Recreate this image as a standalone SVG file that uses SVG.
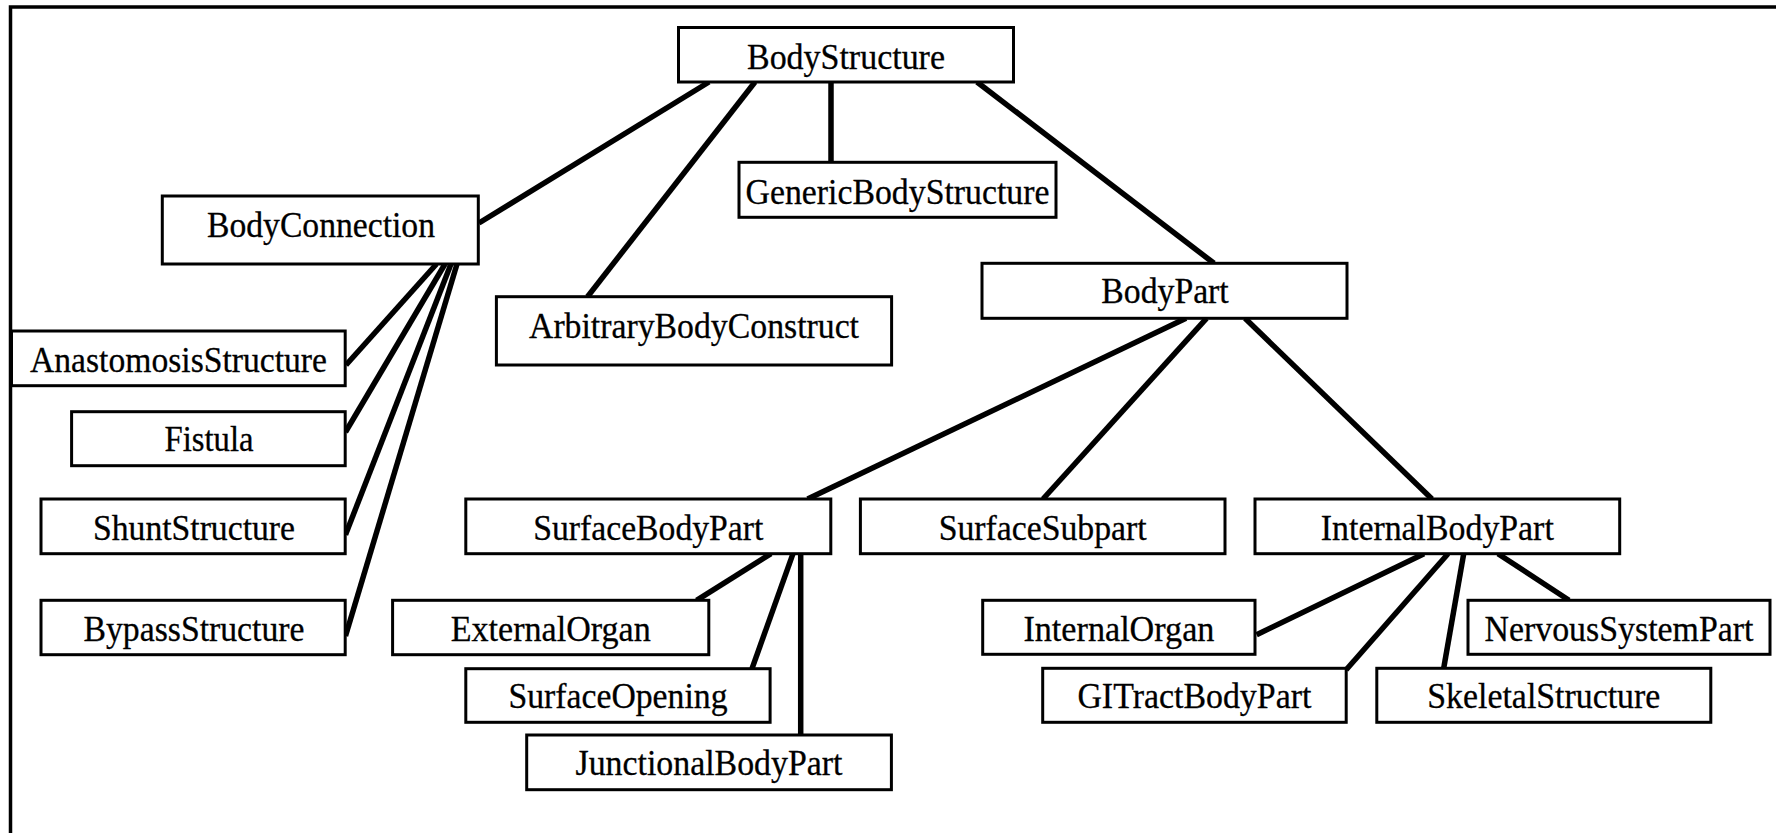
<svg xmlns="http://www.w3.org/2000/svg" width="1776" height="833" viewBox="0 0 1776 833">
<style>
.n rect{fill:#fff;stroke:#000;stroke-width:3}
.n text{font-family:"Liberation Serif","Times New Roman",serif;font-size:36px;fill:#000;stroke:#000;stroke-width:0.3;text-anchor:middle}
#connectors line{stroke:#000;stroke-width:5.5;stroke-linecap:butt}
</style>
<rect width="1776" height="833" fill="#fff"/>
<path d="M10.5,845 V7 H1790" fill="none" stroke="#000" stroke-width="3.5"/>
<g id="connectors">
<line x1="709" y1="82" x2="479" y2="223"/>
<line x1="755" y1="82" x2="587.5" y2="296.7"/>
<line x1="831" y1="82" x2="831" y2="162.3"/>
<line x1="977" y1="82" x2="1214" y2="263.3"/>
<line x1="436.5" y1="264" x2="346" y2="365"/>
<line x1="445" y1="264" x2="345.5" y2="432"/>
<line x1="451" y1="264" x2="345.5" y2="534.7"/>
<line x1="457" y1="264" x2="345.5" y2="636"/>
<line x1="1186" y1="318.3" x2="807.6" y2="499"/>
<line x1="1206.5" y1="318.3" x2="1043" y2="499"/>
<line x1="1245" y1="318.3" x2="1432" y2="499"/>
<line x1="771" y1="553.7" x2="696.6" y2="600.3"/>
<line x1="793" y1="553.7" x2="752" y2="668.7"/>
<line x1="800.7" y1="553.7" x2="800.7" y2="735"/>
<line x1="1424" y1="553.7" x2="1256.6" y2="634.7"/>
<line x1="1448" y1="553.7" x2="1346.2" y2="669.7"/>
<line x1="1463.7" y1="553.7" x2="1443.7" y2="668.3"/>
<line x1="1498" y1="553.7" x2="1569" y2="600.3"/>
</g>
<g id="BodyStructure" class="n"><rect x="678.5" y="27.5" width="335" height="54.5"/><text x="846" y="68.5" textLength="198" lengthAdjust="spacingAndGlyphs">BodyStructure</text></g>
<g id="BodyConnection" class="n"><rect x="162.3" y="196" width="316" height="68"/><text x="321" y="237" textLength="228" lengthAdjust="spacingAndGlyphs">BodyConnection</text></g>
<g id="GenericBodyStructure" class="n"><rect x="739" y="162.3" width="317" height="55"/><text x="897.5" y="203.5" textLength="304" lengthAdjust="spacingAndGlyphs">GenericBodyStructure</text></g>
<g id="ArbitraryBodyConstruct" class="n"><rect x="496.4" y="296.7" width="395.2" height="68.3"/><text x="694" y="337.7" textLength="330" lengthAdjust="spacingAndGlyphs">ArbitraryBodyConstruct</text></g>
<g id="BodyPart" class="n"><rect x="982" y="263.3" width="365" height="55"/><text x="1165" y="303.3" textLength="127.5" lengthAdjust="spacingAndGlyphs">BodyPart</text></g>
<g id="AnastomosisStructure" class="n"><rect x="11.5" y="331" width="333.7" height="54.7"/><text x="178.5" y="371.7" textLength="297" lengthAdjust="spacingAndGlyphs">AnastomosisStructure</text></g>
<g id="Fistula" class="n"><rect x="71.6" y="411.7" width="273.6" height="54"/><text x="209" y="450.5" textLength="89" lengthAdjust="spacingAndGlyphs">Fistula</text></g>
<g id="ShuntStructure" class="n"><rect x="41" y="499" width="304.2" height="54.7"/><text x="194" y="539.7" textLength="202" lengthAdjust="spacingAndGlyphs">ShuntStructure</text></g>
<g id="BypassStructure" class="n"><rect x="41" y="600.3" width="304.2" height="54.4"/><text x="194" y="641.3" textLength="221" lengthAdjust="spacingAndGlyphs">BypassStructure</text></g>
<g id="SurfaceBodyPart" class="n"><rect x="465.8" y="499" width="365" height="54.7"/><text x="648.3" y="539.7" textLength="230" lengthAdjust="spacingAndGlyphs">SurfaceBodyPart</text></g>
<g id="SurfaceSubpart" class="n"><rect x="860.4" y="499" width="364.6" height="54.7"/><text x="1042.7" y="539.7" textLength="208" lengthAdjust="spacingAndGlyphs">SurfaceSubpart</text></g>
<g id="InternalBodyPart" class="n"><rect x="1255" y="499" width="364.7" height="54.7"/><text x="1437.3" y="539.7" textLength="233" lengthAdjust="spacingAndGlyphs">InternalBodyPart</text></g>
<g id="ExternalOrgan" class="n"><rect x="392.6" y="600.3" width="316.2" height="54.4"/><text x="550.7" y="641.3" textLength="200" lengthAdjust="spacingAndGlyphs">ExternalOrgan</text></g>
<g id="SurfaceOpening" class="n"><rect x="465.8" y="668.7" width="304.3" height="53.6"/><text x="618" y="708" textLength="219" lengthAdjust="spacingAndGlyphs">SurfaceOpening</text></g>
<g id="JunctionalBodyPart" class="n"><rect x="526.7" y="735" width="364.7" height="54.7"/><text x="709" y="775.3" textLength="267" lengthAdjust="spacingAndGlyphs">JunctionalBodyPart</text></g>
<g id="InternalOrgan" class="n"><rect x="982.7" y="600.3" width="272.3" height="54"/><text x="1118.9" y="641.3" textLength="191" lengthAdjust="spacingAndGlyphs">InternalOrgan</text></g>
<g id="NervousSystemPart" class="n"><rect x="1468" y="600.3" width="302" height="54"/><text x="1619" y="641.3" textLength="269" lengthAdjust="spacingAndGlyphs">NervousSystemPart</text></g>
<g id="GITractBodyPart" class="n"><rect x="1042.7" y="668.3" width="303.5" height="54"/><text x="1194.4" y="708" textLength="234" lengthAdjust="spacingAndGlyphs">GITractBodyPart</text></g>
<g id="SkeletalStructure" class="n"><rect x="1376.8" y="668.3" width="334" height="54"/><text x="1543.8" y="708" textLength="233" lengthAdjust="spacingAndGlyphs">SkeletalStructure</text></g>
</svg>
